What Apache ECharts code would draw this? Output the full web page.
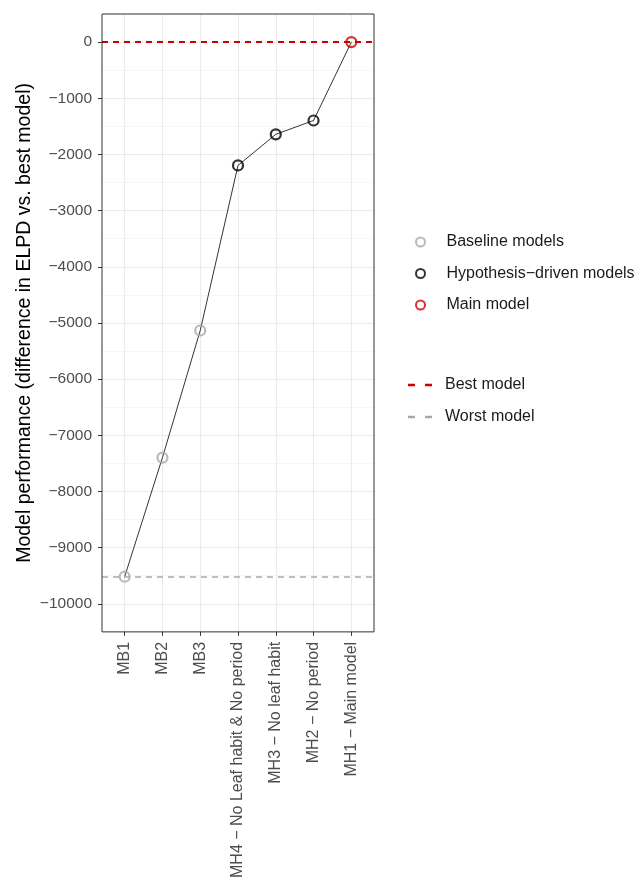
<!DOCTYPE html>
<html>
<head>
<meta charset="utf-8">
<script src="https://cdn.jsdelivr.net/npm/echarts@6/dist/echarts.min.js"></script>
<style>html,body{margin:0;padding:0;background:#fff;}#c{width:637px;height:881px;}</style>
</head>
<body>
<div id="c"></div>
<script>
const categories = ["MB1", "MB2", "MB3", "MH4 − No Leaf habit & No period", "MH3 − No leaf habit", "MH2 − No period", "MH1 − Main model"];
const groups = ["Baseline models", "Baseline models", "Baseline models", "Hypothesis−driven models", "Hypothesis−driven models", "Hypothesis−driven models", "Main model"];
const elpdDiff = [-9518, -7397, -5135, -2196, -1643, -1396, 0];
const yTicks = [0, -1000, -2000, -3000, -4000, -5000, -6000, -7000, -8000, -9000, -10000];
const bestModel = 0;
const worstModel = -9518;

const groupColors = {"Baseline models": "#a9a9a9", "Hypothesis−driven models": "#000000", "Main model": "#cc0000"};
const groupNames = ["Baseline models", "Hypothesis−driven models", "Main model"];

const chart = echarts.init(document.getElementById('c'), null, {renderer: 'canvas'});
const font = "Liberation Sans, Arial, sans-serif";
const catIdx = categories.map((c, i) => i);
const dashIcon = 'path://M0,0h7v2.4h-7z M17,0h7v2.4h-7z';

const scatterSeries = groupNames.map(g => ({
  name: g,
  type: 'scatter',
  xAxisIndex: 0,
  yAxisIndex: 1,
  symbol: 'circle',
  symbolSize: 10,
  itemStyle: {color: 'rgba(255,255,255,0)', borderColor: groupColors[g], borderWidth: 2.2},
  z: 5,
  data: catIdx.filter(i => groups[i] === g).map(i => [i, elpdDiff[i]])
}));

const legendText = {color: '#1a1a1a', fontSize: 16, fontFamily: font, lineHeight: 16, padding: [0, 0, 0, 8]};

const option = {
  animation: false,
  backgroundColor: '#ffffff',
  grid: {left: 102, top: 14, width: 272, height: 619, show: true, borderColor: '#333333', borderWidth: 1, backgroundColor: 'transparent', z: 10},
  xAxis: [{
    type: 'value', min: -0.6, max: 6.6,
    axisLine: {show: false, onZero: false},
    axisTick: {show: true, length: 4, lineStyle: {color: '#333333', width: 1}, customValues: catIdx},
    axisLabel: {customValues: catIdx, rotate: 90, margin: 10, color: '#4d4d4d', fontSize: 16, fontFamily: font,
      formatter: v => categories[Math.round(v)]},
    splitLine: {show: true, lineStyle: {color: '#ebebeb', width: 1.1}}
  }],
  yAxis: [{
    type: 'value', min: -10500, max: 500, interval: 1000,
    axisLine: {show: false, onZero: false}, axisTick: {show: false}, axisLabel: {show: false},
    splitLine: {show: true, lineStyle: {color: '#f2f2f2', width: 0.6}}
  }, {
    type: 'value', min: -10500, max: 500, position: 'left',
    name: 'Model performance (difference in ELPD vs. best model)',
    nameLocation: 'middle', nameRotate: 90, nameGap: 67,
    nameTextStyle: {color: '#000000', fontSize: 19.5, fontFamily: font},
    axisLine: {show: false, onZero: false},
    axisTick: {show: true, length: 4, lineStyle: {color: '#333333', width: 1}, customValues: yTicks},
    axisLabel: {customValues: yTicks, margin: 10, color: '#4d4d4d', fontSize: 15.5, fontFamily: font,
      formatter: v => String(v).replace('-', '−')},
    splitLine: {show: true, lineStyle: {color: '#ebebeb', width: 1.1}}
  }],
  legend: [{
    orient: 'vertical', left: 410, top: 229, itemGap: 15.5, itemWidth: 26, itemHeight: 9,
    data: groupNames,
    textStyle: legendText,
    selectedMode: false
  }, {
    orient: 'vertical', left: 403, top: 372, itemGap: 16, itemWidth: 24, itemHeight: 12,
    data: [{name: 'Best model', icon: dashIcon}, {name: 'Worst model', icon: dashIcon}],
    textStyle: legendText,
    selectedMode: false
  }],
  series: [
    {
      name: 'trend', type: 'line', xAxisIndex: 0, yAxisIndex: 1,
      symbol: 'none', lineStyle: {color: '#000000', width: 0.8}, z: 4,
      data: catIdx.map(i => [i, elpdDiff[i]])
    },
    {
      name: 'Best model', type: 'line', xAxisIndex: 0, yAxisIndex: 1, symbol: 'none',
      lineStyle: {color: '#cc0000', width: 2, type: [6, 5]}, itemStyle: {color: '#cc0000'}, data: [],
      markLine: {silent: true, symbol: 'none', label: {show: false}, lineStyle: {color: '#cc0000', width: 2, type: [6, 5]}, data: [{yAxis: bestModel}]}
    },
    {
      name: 'Worst model', type: 'line', xAxisIndex: 0, yAxisIndex: 1, symbol: 'none',
      lineStyle: {color: '#a9a9a9', width: 1.5, type: [6, 5]}, itemStyle: {color: '#a9a9a9'}, data: [],
      markLine: {silent: true, symbol: 'none', label: {show: false}, lineStyle: {color: '#a9a9a9', width: 1.5, type: [6, 5]}, data: [{yAxis: worstModel}]}
    }
  ].concat(scatterSeries)
};
chart.setOption(option);
</script>
</body>
</html>
